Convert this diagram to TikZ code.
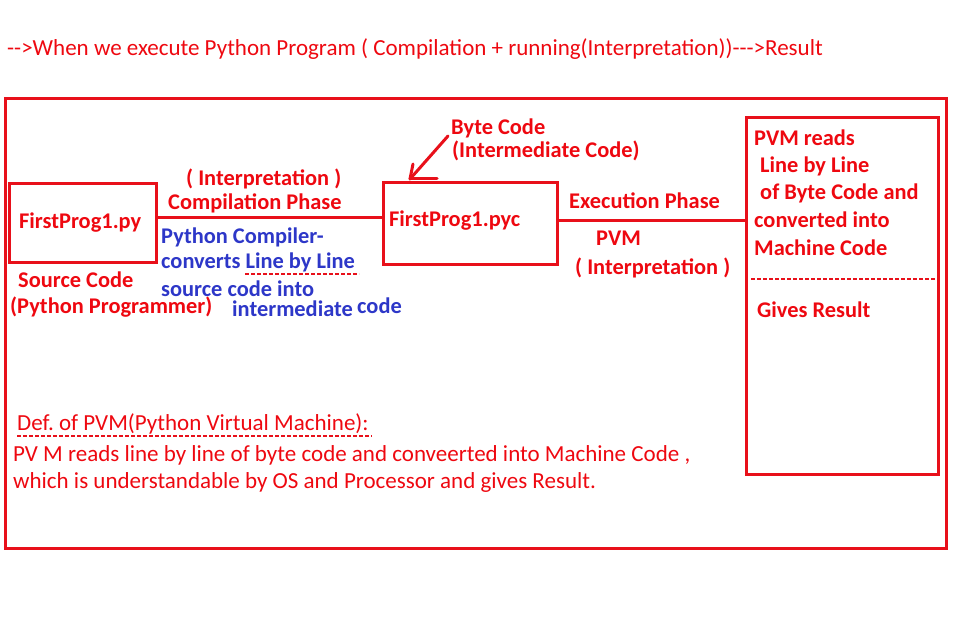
\documentclass[tikz,border=0pt]{standalone}
\usepackage{fontspec}
\setmainfont{Carlito}
\frenchspacing
\definecolor{lred}{RGB}{232,16,26}
\definecolor{tred}{RGB}{238,8,16}
\definecolor{tblue}{RGB}{45,55,200}
\tikzset{
  lbl/.style={anchor=base west,inner sep=0pt,text=tred,font=\bfseries\fontsize{22.4}{26}\selectfont},
  blbl/.style={lbl,text=tblue},
  rlbl/.style={anchor=base west,inner sep=0pt,text=tred,font=\fontsize{23}{27}\selectfont},
  boxr/.style={draw=lred,line width=3pt,rectangle,inner sep=0pt},
  conn/.style={draw=lred,line width=3pt},
  dsh/.style={draw=lred,line width=1.2pt,dash pattern=on 4pt off 2pt}
}
\begin{document}
\begin{tikzpicture}[x=1pt,y=-1pt]
\useasboundingbox (0,0) rectangle (957,620);
% title
\node[rlbl] (title) at (7,56) {{-}{-}>When we execute Python Program ( Compilation + running(Interpretation)){-}{-}{-}>Result};
% outer frame
\node[boxr,minimum width=941pt,minimum height=449pt] (frame) at (475.5,323.5) {};
% boxes
\node[boxr,minimum width=147pt,minimum height=78pt] (box1) at (82.5,223) {};
\node[boxr,minimum width=174pt,minimum height=81pt] (box2) at (470,223.5) {};
\node[boxr,minimum width=192pt,minimum height=356pt] (rbox) at (842,296) {};
% connectors
\draw[conn] ([yshift=5pt]box1.east) -- ([yshift=5pt]box1.east -| box2.west);
\draw[conn] ([yshift=2.5pt]box2.east) -- ([yshift=2.5pt]box2.east -| rbox.west);
% arrow
\coordinate (atail) at (448,136);
\coordinate (atip) at (410,179);
\draw[conn,line cap=round] (atail) -- (atip);
\draw[conn,line cap=round] (atip) -- ++(3,-15);
\draw[conn,line cap=round] (atip) -- ++(27,0);
% box labels
\node[lbl] (t1) at (19,229) {FirstProg1.py};
\node[lbl] (t2) at (389,226) {FirstProg1.pyc};
% compile labels
\node[lbl] (ci) at (186,186) {( Interpretation )};
\node[lbl] (cp) at (168,210) {Compilation Phase};
\node[blbl] (pc1) at (161,243) {Python Compiler-};
\node[blbl] (pc2) at (161,268) {converts Line by Line};
\draw[dsh] (245,274) -- (359,274);
\node[blbl] (pc3) at (161,296) {source code into};
\node[blbl] (pc4) at (232,316) {intermediate};
\node[blbl] (pc5) at (357,313) {code};
\node[lbl] (sc1) at (18,287) {Source Code};
\node[lbl] (sc2) at (10,313) {(Python Programmer)};
% byte code
\node[lbl] (bc1) at (451,135) {Byte Code};
\node[lbl] (bc2) at (452,158) {(Intermediate Code)};
% execution
\node[lbl] (ep) at (569,208) {Execution Phase};
\node[lbl] (pvm) at (596,245) {PVM};
\node[lbl] (ei) at (575,274) {( Interpretation )};
% right box text
\node[lbl] (r1) at (754,146) {PVM reads};
\node[lbl] (r2) at (760,173) {Line by Line};
\node[lbl] (r3) at (760,200) {of Byte Code and};
\node[lbl] (r4) at (754,228) {converted into};
\node[lbl] (r5) at (754,255) {Machine Code};
\draw[dsh] (751,279) -- (935,279);
\node[lbl] (r6) at (757,317) {Gives Result};
% definition
\node[rlbl] (d1) at (17,430) {Def. of PVM(Python Virtual Machine):};
\draw[dsh] (17,436) -- (372,436);
\node[rlbl] (d2) at (13,461) {PV M reads line by line of byte code and conveerted into Machine Code ,};
\node[rlbl] (d3) at (13,488) {which is understandable by OS and Processor and gives Result.};
\end{tikzpicture}
\end{document}
